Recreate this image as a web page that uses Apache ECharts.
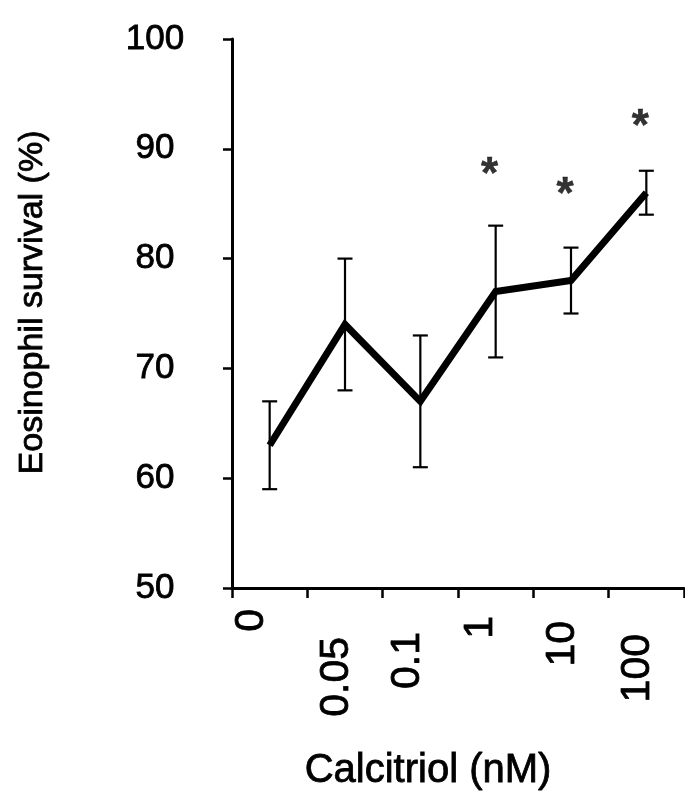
<!DOCTYPE html>
<html>
<head>
<meta charset="utf-8">
<script src="https://cdn.jsdelivr.net/npm/echarts@6/dist/echarts.min.js"></script>
<style>html,body{margin:0;padding:0;background:#fff}#c{width:685px;height:800px}</style>
</head>
<body>
<div id="c"></div>
<script>
// ---- data ----
const categories = ['0', '0.05', '0.1', '1', '10', '100'];
const survival = [63, 74, 67, 77, 78, 86];
const errLow = [59, 68, 61, 71, 75, 84];
const errHigh = [67, 80, 73, 83, 81, 88];
const sigMarkY = [null, null, null, 87.5, 85.7, 91.9];
const yTicks = [50, 60, 70, 80, 90, 100];

// ---- label styling (layout only) ----
const labelPadRight = [0, 28, 23, 7, 12, 25];
const labelShift = [18, 8, 13, 15, 8, 9];

const REG = "'Liberation Sans', Arial, sans-serif";
const HEAVY = {textBorderColor: '#000', textBorderWidth: 0.8};

const rich = {};
categories.forEach((c, i) => {
  rich['l' + i] = Object.assign({
    fontFamily: REG, fontSize: 41, color: '#000',
    padding: [0, labelPadRight[i], labelShift[i] * 2, 0]
  }, HEAVY);
});

const chart = echarts.init(document.getElementById('c'), null, {renderer: 'canvas'});
chart.setOption({
  animation: false,
  backgroundColor: '#fff',
  grid: {left: 232, right: 1, top: 39, bottom: 212, outerBoundsMode: 'none', containLabel: false},
  xAxis: {
    type: 'category',
    data: categories,
    boundaryGap: true,
    name: 'Calcitriol (nM)',
    nameLocation: 'middle',
    nameGap: 163,
    nameTextStyle: Object.assign({fontFamily: REG, fontSize: 40, color: '#000', padding: [0, 60, 0, 0]}, HEAVY),
    axisLine: {lineStyle: {color: '#000', width: 3}},
    axisTick: {show: true, length: 10, interval: 0, lineStyle: {color: '#000', width: 2.5}},
    axisLabel: {
      rotate: 90, margin: 21, interval: 0,
      formatter: (v) => '{l' + categories.indexOf(v) + '|' + v + '}',
      rich: rich
    },
    splitLine: {show: false}
  },
  yAxis: {
    type: 'value',
    min: yTicks[0], max: yTicks[yTicks.length - 1], interval: 10,
    name: 'Eosinophil survival (%)',
    nameLocation: 'middle',
    nameGap: 182,
    nameTextStyle: Object.assign({fontFamily: REG, fontSize: 34, color: '#000', padding: [0, 0, 0, 22]}, HEAVY),
    axisLine: {show: true, lineStyle: {color: '#000', width: 3}},
    axisTick: {show: true, length: 9, lineStyle: {color: '#000', width: 2.5}},
    axisLabel: Object.assign({fontFamily: REG, fontSize: 35, color: '#000', align: 'center', margin: 77}, HEAVY),
    splitLine: {show: false}
  },
  series: [
    {
      type: 'custom',
      name: 'error',
      data: categories.map((c, i) => [i, errLow[i], errHigh[i]]),
      renderItem: function (params, api) {
        const x = api.value(0);
        const lo = api.coord([x, api.value(1)]);
        const hi = api.coord([x, api.value(2)]);
        const hw = 7.5;
        const st = {stroke: '#000', lineWidth: 2.2};
        return {
          type: 'group',
          children: [
            {type: 'line', shape: {x1: lo[0], y1: lo[1], x2: hi[0], y2: hi[1]}, style: st},
            {type: 'line', shape: {x1: lo[0] - hw, y1: lo[1], x2: lo[0] + hw, y2: lo[1]}, style: st},
            {type: 'line', shape: {x1: hi[0] - hw, y1: hi[1], x2: hi[0] + hw, y2: hi[1]}, style: st}
          ]
        };
      },
      z: 2
    },
    {
      type: 'line',
      data: survival,
      symbol: 'none',
      lineStyle: {color: '#000', width: 7, join: 'miter'},
      z: 3
    },
    {
      type: 'scatter',
      data: sigMarkY.map((v, i) => v == null ? null : [i, v]).filter(d => d),
      symbol: 'circle',
      symbolSize: 0,
      itemStyle: {color: '#000'},
      label: {show: true, position: 'inside', offset: [-6, 0], formatter: '*', fontFamily: REG, fontWeight: 'bold', fontSize: 44, color: '#000', textBorderColor: '#000', textBorderWidth: 0.5},
      z: 4
    }
  ]
});
</script>
</body>
</html>
